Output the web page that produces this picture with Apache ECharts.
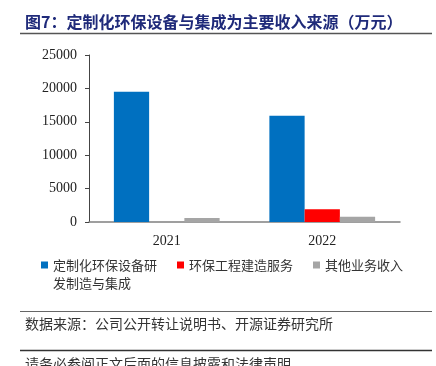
<!DOCTYPE html>
<html>
<head>
    <meta charset="utf-8">
    <script type="text/javascript" src="https://cdn.jsdelivr.net/npm/echarts@6/dist/echarts.min.js"></script>
    <title>ECharts图表</title>
    <style>
        html, body { margin: 0; padding: 0; background: #fff; }
    </style>
</head>
<body>
    <div id="container" style="width:436px;height:366px;"></div>
    <script type="text/javascript">
    // 数据
    var years = ['2021', '2022'];
    var seriesNames = ['定制化环保设备研发制造与集成', '环保工程建造服务', '其他业务收入'];
    var equipData = [19500, 15900];
    var projectData = [0, 1900];
    var otherData = [600, 800];
    var yTicks = [0, 5000, 10000, 15000, 20000, 25000];

    var colors = ['#0070C0', '#FF0000', '#A5A5A5'];
    var cjk = '"Noto Sans CJK SC", sans-serif';
    var serif = '"Liberation Serif", "DejaVu Serif", serif';

    var myChart = echarts.init(document.getElementById('container'));

    var option = {
        animation: false,
        color: colors,
        title: [{
            text: '图7：定制化环保设备与集成为主要收入来源（万元）',
            left: 20,
            top: 9,
            textStyle: { fontFamily: cjk, fontSize: 16, fontWeight: 'bold', color: '#1F2A7A' }
        }, {
            text: '数据来源：公司公开转让说明书、开源证券研究所',
            left: 20,
            top: 312,
            textStyle: { fontFamily: cjk, fontSize: 14, fontWeight: 'normal', color: '#333' }
        }, {
            text: '请务必参阅正文后面的信息披露和法律声明',
            left: 20,
            top: 352,
            textStyle: { fontFamily: cjk, fontSize: 14, fontWeight: 'normal', color: '#333' }
        }],
        // 分隔线
        graphic: [{
            type: 'line', shape: { x1: 20, y1: 33.5, x2: 432, y2: 33.5 },
            style: { stroke: '#555', lineWidth: 1.5 }
        }, {
            type: 'line', shape: { x1: 20, y1: 311.5, x2: 432, y2: 311.5 },
            style: { stroke: '#666', lineWidth: 1 }
        }, {
            type: 'line', shape: { x1: 20, y1: 350.5, x2: 432, y2: 350.5 },
            style: { stroke: '#333', lineWidth: 1.5 }
        }],
        legend: {
            left: 36,
            top: 233,
            itemWidth: 7,
            itemHeight: 7,
            itemGap: 20,
            icon: 'rect',
            textStyle: { fontFamily: cjk, fontSize: 13, color: '#333', lineHeight: 18 },
            // 第一项折成两行，前面加一行空白让首行与图标对齐
            formatter: function(name) {
                return name === seriesNames[0] ? ' \n定制化环保设备研\n发制造与集成' : name;
            },
            data: seriesNames
        },
        grid: { left: 89, right: 36, top: 55, bottom: 144 },
        xAxis: {
            type: 'category',
            data: years,
            axisLine: { lineStyle: { color: '#808080', width: 1.5 } },
            axisTick: { inside: true, length: 3, lineStyle: { color: '#808080' } },
            axisLabel: { fontFamily: serif, fontSize: 14, color: '#222', margin: 12 }
        },
        yAxis: {
            type: 'value',
            min: 0,
            max: yTicks[yTicks.length - 1],
            interval: yTicks[1] - yTicks[0],
            splitLine: { show: false },
            axisLine: { show: true, lineStyle: { color: '#444' } },
            axisTick: { show: true, length: 4, lineStyle: { color: '#444' } },
            axisLabel: {
                fontFamily: serif, fontSize: 14, color: '#222', margin: 12,
                formatter: function(v) { return String(v); }
            }
        },
        series: [{
            name: seriesNames[0],
            type: 'bar',
            barGap: 0,
            barCategoryGap: '32%',
            data: equipData
        }, {
            name: seriesNames[1],
            type: 'bar',
            data: projectData
        }, {
            name: seriesNames[2],
            type: 'bar',
            data: otherData
        }]
    };

    myChart.setOption(option);
    </script>
</body>
</html>
